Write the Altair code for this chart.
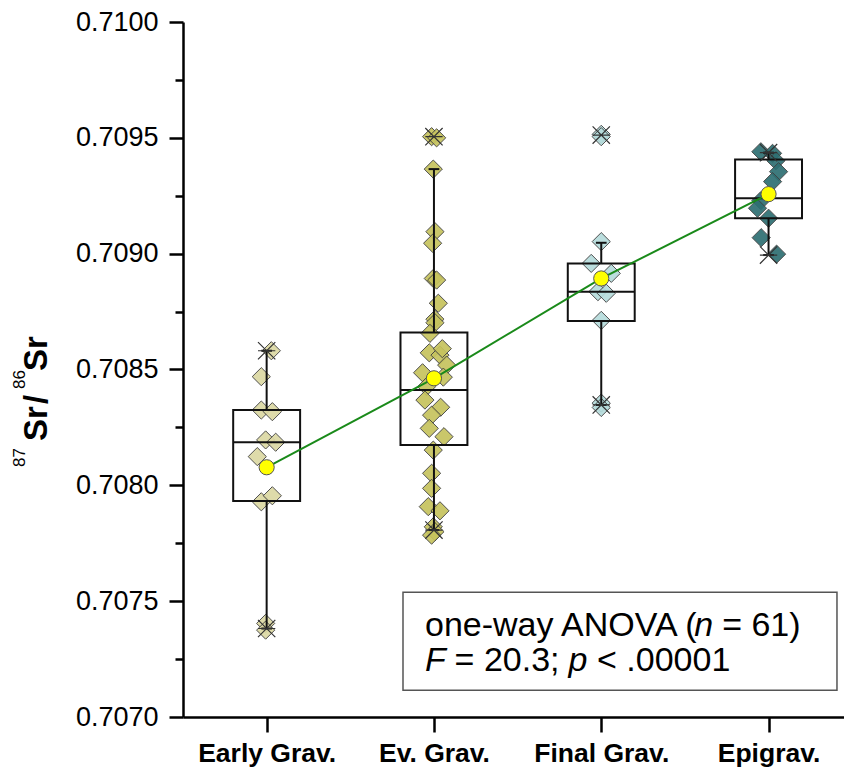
import altair as alt
import pandas as pd

FONT = "Liberation Sans"

categories = ["Early Grav.", "Ev. Grav.", "Final Grav.", "Epigrav."]
cat_index = [1, 2, 3, 4]
fill_colors = ["#dcd8a3", "#c6c35e", "#b6dcdc", "#2e6f72"]

# individual samples (87Sr/86Sr) and their horizontal jitter (category units)
early_vals = [0.708581, 0.708469, 0.708325, 0.708318, 0.708196, 0.708186,
              0.708124, 0.707929, 0.707955, 0.707404, 0.707375]
early_jit = [0.028, -0.032, -0.032, 0.034, -0.006, 0.054, -0.056, -0.032, 0.034, -0.006, -0.006]

ev_vals = [0.709505, 0.709500, 0.709365, 0.709095, 0.709045, 0.708893, 0.708886,
           0.708786, 0.708717, 0.708702, 0.708656, 0.708572, 0.708562, 0.708519,
           0.708486, 0.708467, 0.708426, 0.708368, 0.708337, 0.708303, 0.708246,
           0.708210, 0.708152, 0.708052, 0.707987, 0.707908, 0.707890, 0.707821,
           0.707800, 0.707785, 0.708590]
ev_jit = [-0.014, 0.016, -0.004, 0.006, -0.008, -0.004, 0.016, 0.026, 0.006, 0.006,
          -0.024, -0.028, 0.036, 0.076, -0.068, 0.056, -0.044, -0.054, 0.040, -0.014,
          -0.028, 0.060, -0.004, -0.014, -0.014, -0.034, 0.036, -0.004, 0.006, -0.014,
          0.050]

final_vals = [0.709515, 0.709505, 0.709052, 0.708958, 0.708915, 0.708836, 0.708829,
              0.708712, 0.708355, 0.708336]
final_jit = [0.0, 0.0, 0.0, -0.060, 0.060, -0.020, 0.030, 0.0, 0.0, 0.0]

epi_vals = [0.709440, 0.709433, 0.709401, 0.709354, 0.709311, 0.709229, 0.709196,
            0.709153, 0.709069, 0.708998]
epi_jit = [-0.046, 0.024, 0.044, 0.060, 0.024, -0.046, -0.066, 0.0, -0.044, 0.048]

# box statistics
q1 = [0.707932, 0.708174, 0.708709, 0.709153]
median = [0.708186, 0.708411, 0.708836, 0.709239]
q3 = [0.708325, 0.708660, 0.708958, 0.709407]
whisker_lo = [0.707382, 0.707807, 0.708347, 0.708994]
whisker_hi = [0.708581, 0.709365, 0.709047, 0.709436]
means = [0.708078, 0.708462, 0.708893, 0.709257]
min_vals = [0.707382, 0.707807, 0.708347, 0.708994]
max_vals = [0.708581, 0.709505, 0.709512, 0.709436]

y_major = [0.707, 0.7075, 0.708, 0.7085, 0.709, 0.7095, 0.71]
y_minor = [0.70725, 0.70775, 0.70825, 0.70875, 0.70925, 0.70975]

# ---------------- tables ----------------
rows = []
for name, idx, vals, jit in zip(categories, cat_index,
                                 [early_vals, ev_vals, final_vals, epi_vals],
                                 [early_jit, ev_jit, final_jit, epi_jit]):
    for v, j in zip(vals, jit):
        rows.append({"cat": name, "idx": idx, "jit": j, "val": v})
pts = pd.DataFrame(rows)

stats = pd.DataFrame({"cat": categories, "idx": cat_index, "q1": q1, "median": median,
                      "q3": q3, "wlo": whisker_lo, "whi": whisker_hi, "mean": means,
                      "mn": min_vals, "mx": max_vals})
ext = pd.concat([stats[["idx"]].assign(v=stats["mn"]), stats[["idx"]].assign(v=stats["mx"])])
caps = pd.concat([stats[["idx"]].assign(v=stats["wlo"]), stats[["idx"]].assign(v=stats["whi"])])
one = stats[stats["idx"] == 1]

xs = alt.Scale(domain=[0.5, 4.451], nice=False, zero=False)
ys = alt.Scale(domain=[0.707, 0.71], nice=False, zero=False)

label_expr = " : ".join(
    f"datum.value == {i} ? '{c}'" for i, c in zip(cat_index, categories)) + " : ''"

x_axis = alt.Axis(values=cat_index, labelExpr=label_expr, grid=False, title=None,
                  labelFont=FONT, labelFontSize=26.5, labelFontWeight="bold",
                  labelColor="black", tickSize=15, tickWidth=2.5, tickColor="black",
                  domainWidth=2.5, domainColor="black", labelPadding=8)
y_axis = alt.Axis(values=y_major, format=".4f", grid=False, title=None,
                  labelFont=FONT, labelFontSize=27, labelColor="black",
                  tickSize=14, tickWidth=2.5, tickColor="black",
                  domainWidth=2.5, domainColor="black", labelPadding=11)


def X(field):
    return alt.X(field, type="quantitative", scale=xs, axis=x_axis)


def Y(field):
    return alt.Y(field, type="quantitative", scale=ys, axis=y_axis)


color = alt.Color("cat:N", scale=alt.Scale(domain=categories, range=fill_colors), legend=None)

diamonds = alt.Chart(pts).transform_calculate(xp="datum.idx + datum.jit").mark_point(
    shape="diamond", filled=True, size=330, stroke="#404040", strokeWidth=1,
    opacity=0.92
).encode(x=X("xp"), y=Y("val"), color=color)

boxes = alt.Chart(stats).transform_calculate(
    xl="datum.idx - 0.2", xr="datum.idx + 0.2"
).mark_rect(fill=None, stroke="#111111", strokeWidth=2, fillOpacity=0).encode(
    x=X("xl"), x2="xr", y=Y("q1"), y2="q3")

med = alt.Chart(stats).transform_calculate(
    xl="datum.idx - 0.2", xr="datum.idx + 0.2"
).mark_rule(color="#111111", strokeWidth=2).encode(x=X("xl"), x2="xr", y=Y("median"))

whisk_up = alt.Chart(stats).mark_rule(color="#111111", strokeWidth=2).encode(
    x=X("idx"), y=Y("q3"), y2="whi")
whisk_dn = alt.Chart(stats).mark_rule(color="#111111", strokeWidth=2).encode(
    x=X("idx"), y=Y("wlo"), y2="q1")

cap = alt.Chart(caps).transform_calculate(
    xl="datum.idx - 0.032", xr="datum.idx + 0.032"
).mark_rule(color="#111111", strokeWidth=2).encode(x=X("xl"), x2="xr", y=Y("v"))

stars = alt.Chart(ext).mark_point(
    shape="M-1,-1L1,1M-1,1L1,-1M-1,0L1,0", filled=False, size=300,
    stroke="#333333", strokeWidth=1.2, opacity=1
).encode(x=X("idx"), y=Y("v"))

trend = alt.Chart(stats).mark_line(color="#1a8a1a", strokeWidth=2).encode(
    x=X("idx"), y=Y("mean"), order="idx:Q")

mean_pts = alt.Chart(stats).mark_point(
    shape="circle", filled=True, size=230, fill="#ffff00", stroke="#555555",
    strokeWidth=1, opacity=1
).encode(x=X("idx"), y=Y("mean"))

anno_box = alt.Chart(one).mark_rect(
    fill="white", stroke="#555555", strokeWidth=1.5
).encode(x=alt.datum(1.815, scale=xs), x2=alt.datum(4.409),
         y=alt.datum(0.707116, scale=ys), y2=alt.datum(0.707539))

# statistics annotation, split where the italic letters are (offsets in em of the font)
ANNO_SIZE = 34
LINE1, LINE2 = 0.70735, 0.707199
segments = [
    ("one-way ANOVA (", "normal", 0.0, LINE1),
    ("n", "italic", 7.92, LINE1),
    ("= 61)", "normal", 8.74, LINE1),
    ("F", "italic", 0.0, LINE2),
    ("= 20.3;", "normal", 0.87, LINE2),
    ("p", "italic", 4.22, LINE2),
    ("< .00001", "normal", 5.06, LINE2),
]
texts = []
for txt, style, off, yv in segments:
    texts.append(
        alt.Chart(one).mark_text(
            text=txt, font=FONT, fontSize=ANNO_SIZE, fontStyle=style, align="left",
            baseline="alphabetic", dx=off * ANNO_SIZE, color="black"
        ).encode(x=alt.datum(1.9465, scale=xs), y=alt.datum(yv, scale=ys))
    )

# y-axis title 87Sr/86Sr with raised mass numbers (rotated, reading upward)
title_parts = [
    ("87", 17, "normal", -158, 445),
    ("Sr", 33, "bold", -136.5, 419),
    ("/", 33, "bold", -136.5, 382),
    ("86", 17, "normal", -158, 367),
    ("Sr", 33, "bold", -136.5, 349),
]
title_layers = []
for txt, fs, fw, px, py in title_parts:
    title_layers.append(
        alt.Chart(one).mark_text(
            text=txt, font=FONT, fontSize=fs, fontWeight=fw, angle=270,
            align="left", baseline="alphabetic", color="black"
        ).encode(x=alt.value(px), y=alt.value(py))
    )

main = alt.layer(diamonds, boxes, med, whisk_up, whisk_dn, cap, stars, trend, mean_pts,
                 anno_box, *texts, *title_layers)

minor = alt.Chart(pd.DataFrame({"v": y_minor})).mark_point(opacity=0).encode(
    y=alt.Y("v:Q", scale=ys,
            axis=alt.Axis(values=y_minor, orient="left", labels=False, domain=False,
                          grid=False, title=None, tickSize=8, tickWidth=2.5,
                          tickColor="black")))

chart = alt.layer(main, minor).resolve_axis(y="independent").properties(
    width=661, height=695,
    padding={"left": 183, "top": 22, "right": 0, "bottom": 55},
    autosize=alt.AutoSizeParams(type="none"),
    background="white",
).configure_view(stroke=None)

chart.save("out.html", embed_options={"renderer": "svg", "actions": False})
